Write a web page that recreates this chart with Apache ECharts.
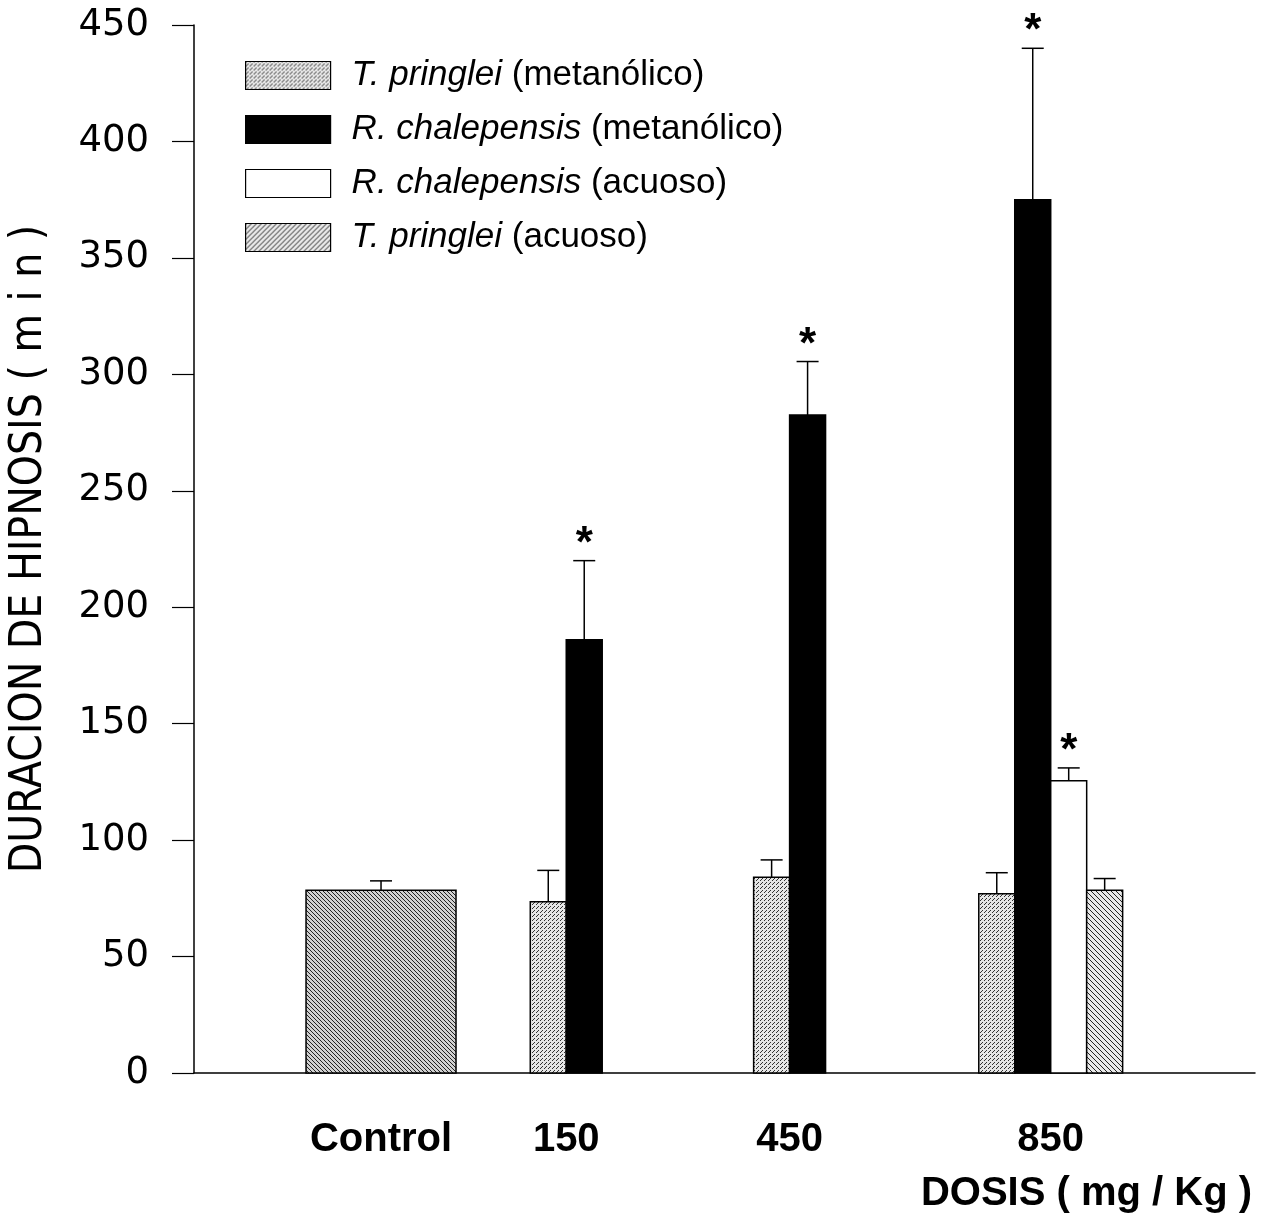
<!DOCTYPE html>
<html>
<head>
<meta charset="utf-8">
<script src="https://cdn.jsdelivr.net/npm/echarts@6/dist/echarts.min.js"></script>
<style>
  html, body { margin: 0; padding: 0; background: #fff; }
  #main { width: 1269px; height: 1215px; }
</style>
</head>
<body>
<div id="main"></div>
<script>
var chart = echarts.init(document.getElementById('main'));

// doses on the x axis
var doses = ['Control', '150', '450', '850'];

// mean duration (min) and upper error (SE) per dose
var controlMean = [78.5, null, null, null];
var controlErr  = [4,    null, null, null];
var tpMetMean = [null, 73.5, 84,   77];
var tpMetErr  = [null, 13.5, 7.5,  9];
var rcMetMean = [null, 186,  282.5, 375];
var rcMetErr  = [null, 34,   23,   65];
var rcAcMean  = [null, null, null, 125.5];
var rcAcErr   = [null, null, null, 5.5];
var tpAcMean  = [null, null, null, 78.5];
var tpAcErr   = [null, null, null, 5];
// significance marks (*)
var rcMetSig = [0, 1, 1, 1];
var rcAcSig  = [0, 0, 0, 1];

var yTicks = [0, 50, 100, 150, 200, 250, 300, 350, 400, 450];

// layout: where each dose group sits on the (hidden) x value axis, in bar widths
var groupCenters = [5.2, 10.35, 16.56, 23.82];
var controlWidth = 4.17;

// fill patterns
function makePattern(size, bg, fg, isDark) {
  var c = document.createElement('canvas');
  c.width = size; c.height = size;
  var ctx = c.getContext('2d');
  ctx.fillStyle = bg;
  ctx.fillRect(0, 0, size, size);
  ctx.fillStyle = fg;
  for (var x = 0; x < size; x++) {
    for (var y = 0; y < size; y++) {
      if (isDark(x, y)) ctx.fillRect(x, y, 1, 1);
    }
  }
  return { image: c, repeat: 'repeat' };
}
var dotFill = makePattern(4, '#e6e6e6', '#333', function (x, y) {
  return (x === 0 && y === 0) || (x === 2 && y === 2) || (x === 1 && y === 3);
});
var hatchDense = makePattern(4, '#d0d0d0', '#222', function (x, y) {
  return (x - y + 8) % 4 === 0;
});
var hatchBack = makePattern(5, '#e8e8e8', '#222', function (x, y) {
  return (x - y + 10) % 5 === 0;
});
var hatchFwd = makePattern(5, '#e8e8e8', '#222', function (x, y) {
  return (x + y) % 5 === 0;
});

var allMeans = [tpMetMean, rcMetMean, rcAcMean, tpAcMean];

// slot of a series inside its dose group, bars sit side by side around the center
function slotStart(sIdx, d) {
  var present = [];
  for (var i = 0; i < allMeans.length; i++) {
    if (allMeans[i][d] != null) present.push(i);
  }
  return groupCenters[d] - present.length / 2 + present.indexOf(sIdx);
}

function makeRender(fill, sIdx) {
  return function (params, api) {
    var d = api.value(0);
    var mean = api.value(1);
    var err = api.value(2);
    var sig = api.value(3);
    var x0, w;
    if (sIdx < 0) {
      w = controlWidth;
      x0 = groupCenters[d] - w / 2;
    } else {
      w = 1;
      x0 = slotStart(sIdx, d);
    }
    var pBase = api.coord([x0, 0]);
    var pTop = api.coord([x0 + w, mean]);
    var pErr = api.coord([x0 + w / 2, mean + err]);
    var children = [
      {
        type: 'rect',
        shape: { x: pBase[0], y: pTop[1], width: pTop[0] - pBase[0], height: pBase[1] - pTop[1] },
        style: { fill: fill, stroke: '#000', lineWidth: 1.5 }
      },
      {
        type: 'line',
        shape: { x1: pErr[0], y1: pTop[1], x2: pErr[0], y2: pErr[1] },
        style: { stroke: '#000', lineWidth: 1.5 }
      },
      {
        type: 'line',
        shape: { x1: pErr[0] - 11, y1: pErr[1], x2: pErr[0] + 11, y2: pErr[1] },
        style: { stroke: '#000', lineWidth: 1.5 }
      }
    ];
    if (sig) {
      children.push({
        type: 'text',
        style: {
          text: '*', x: pErr[0], y: pErr[1] + 6,
          align: 'center', verticalAlign: 'bottom',
          font: 'bold 44px "Liberation Sans", Arial, sans-serif', fill: '#000'
        }
      });
    }
    return { type: 'group', children: children };
  };
}

function toData(means, errs, sigs) {
  var out = [];
  for (var i = 0; i < means.length; i++) {
    if (means[i] != null) out.push([i, means[i], errs[i], sigs ? sigs[i] : 0]);
  }
  return out;
}

var names = [
  'T. pringlei (metanólico)',
  'R. chalepensis (metanólico)',
  'R. chalepensis (acuoso)',
  'T. pringlei (acuoso)'
];
var italicPart = ['T. pringlei', 'R. chalepensis', 'R. chalepensis', 'T. pringlei'];

var option = {
  animation: false,
  backgroundColor: '#fff',
  title: {
    text: 'DOSIS ( mg / Kg )',
    right: 12,
    top: 1169,
    textStyle: { fontFamily: '"Liberation Sans", Arial, sans-serif', fontWeight: 'bold', fontSize: 40, color: '#000' }
  },
  legend: {
    orient: 'vertical',
    left: 240,
    top: 53,
    itemWidth: 85,
    itemHeight: 28,
    itemGap: 19,
    icon: 'rect',
    data: [
      { name: names[0], itemStyle: { color: dotFill, borderColor: '#000', borderWidth: 1.2 } },
      { name: names[1], itemStyle: { color: '#000', borderColor: '#000', borderWidth: 1.2 } },
      { name: names[2], itemStyle: { color: '#fff', borderColor: '#000', borderWidth: 1.2 } },
      { name: names[3], itemStyle: { color: hatchFwd, borderColor: '#000', borderWidth: 1.2 } }
    ],
    formatter: function (name) {
      var i = names.indexOf(name);
      return '{i|' + italicPart[i] + '}' + name.slice(italicPart[i].length);
    },
    textStyle: {
      fontFamily: '"Liberation Sans", Arial, sans-serif',
      fontSize: 35,
      lineHeight: 32,
      color: '#000',
      padding: [0, 0, 0, 16],
      rich: {
        i: { fontFamily: '"Liberation Sans", Arial, sans-serif', fontSize: 35, lineHeight: 32, fontStyle: 'italic', color: '#000' }
      }
    }
  },
  grid: { left: 194, right: 14, top: 25, bottom: 142 },
  xAxis: {
    type: 'value',
    min: 0,
    max: 29.5,
    splitLine: { show: false },
    axisLine: { show: true, onZero: false, lineStyle: { color: '#000', width: 1.5 } },
    axisTick: { show: false },
    axisLabel: {
      customValues: groupCenters,
      margin: 47,
      formatter: function (v) {
        var i = groupCenters.indexOf(v);
        return i >= 0 ? doses[i] : '';
      },
      fontFamily: '"Liberation Sans", Arial, sans-serif',
      fontWeight: 'bold',
      fontSize: 40,
      color: '#000'
    }
  },
  yAxis: {
    type: 'value',
    min: 0,
    max: 450,
    interval: 50,
    name: 'DURACION DE HIPNOSIS ( m i n )',
    nameLocation: 'middle',
    nameGap: 142,
    nameTextStyle: {
      fontFamily: '"Liberation Sans Narrow", "DejaVu Sans Condensed", sans-serif',
      fontSize: 44,
      color: '#000'
    },
    splitLine: { show: false },
    axisLine: { show: true, lineStyle: { color: '#000', width: 1.5 } },
    axisTick: { show: true, length: 22, lineStyle: { color: '#000', width: 1.2 } },
    axisLabel: {
      margin: 45,
      fontFamily: '"DejaVu Sans", sans-serif',
      fontSize: 37,
      color: '#000',
      formatter: function (v) { return yTicks.indexOf(v) >= 0 ? String(v) : ''; }
    }
  },
  series: [
    {
      name: 'Control', type: 'custom', renderItem: makeRender(hatchDense, -1),
      itemStyle: { color: hatchDense },
      data: toData(controlMean, controlErr, null)
    },
    {
      name: names[0], type: 'custom', renderItem: makeRender(dotFill, 0),
      itemStyle: { color: dotFill },
      data: toData(tpMetMean, tpMetErr, null)
    },
    {
      name: names[1], type: 'custom', renderItem: makeRender('#000', 1),
      itemStyle: { color: '#000' },
      data: toData(rcMetMean, rcMetErr, rcMetSig)
    },
    {
      name: names[2], type: 'custom', renderItem: makeRender('#fff', 2),
      itemStyle: { color: '#fff' },
      data: toData(rcAcMean, rcAcErr, rcAcSig)
    },
    {
      name: names[3], type: 'custom', renderItem: makeRender(hatchBack, 3),
      itemStyle: { color: hatchBack },
      data: toData(tpAcMean, tpAcErr, null)
    }
  ]
};

chart.setOption(option);

window.onresize = chart.resize;
</script>
</body>
</html>
